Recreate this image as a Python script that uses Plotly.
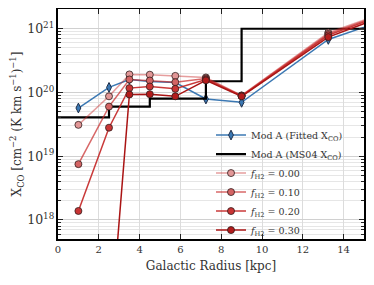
import plotly.graph_objects as go

# ---- data ----
radius = [1, 2.5, 3.5, 4.5, 5.75, 7.25, 9, 13.25, 17]
fitted_xco = [5.7e19, 1.2e20, 1.6e20, 1.49e20, 1.43e20, 7.9e19, 7.0e19, 6.8e20, 1.75e21]

ms04_r = [0, 2.5, 4.5, 7.25, 9, 17]
ms04_xco = [4.07e19, 6.0e19, 8.0e19, 1.5e20, 1.0e21, 1.0e21]

fh2_labels = ["0.00", "0.10", "0.20", "0.30"]
xco_f00 = [3.1e19, 8.7e19, 1.92e20, 1.9e20, 1.82e20, 1.72e20, 9.0e19, 8.7e20, 2.3e21]
xco_f01 = [7.5e18, 6.0e19, 1.6e20, 1.54e20, 1.45e20, 1.66e20, 8.9e19, 8.3e20, 2.25e21]
xco_f02 = [1.38e18, 2.8e19, 1.17e20, 1.24e20, 1.14e20, 1.6e20, 8.8e19, 7.9e20, 2.2e21]
xco_f03 = [1e14, 1e16, 9.3e19, 9.4e19, 8.7e19, 1.55e20, 8.7e19, 7.4e20, 2.1e21]

x_ticks = [0, 2, 4, 6, 8, 10, 12, 14]

red_colors = ["rgba(200,40,40,0.45)", "rgba(200,40,40,0.7)", "rgba(195,35,35,0.9)", "rgba(170,20,20,1.0)"]
red_fills = ["#e29797", "#d46464", "#c93434", "#b31c1c"]

fig = go.Figure()

fig.add_trace(go.Scatter(
    x=radius, y=fitted_xco, mode="lines+markers",
    name="Mod A (Fitted X<sub>CO</sub>)",
    line=dict(color="#3b78b3", width=1.5),
    marker=dict(symbol="diamond-tall", size=7, color="#3b78b3",
                line=dict(color="#1f2f4a", width=1)),
))

fig.add_trace(go.Scatter(
    x=ms04_r, y=ms04_xco, mode="lines",
    name="Mod A (MS04 X<sub>CO</sub>)",
    line=dict(color="black", width=2.2, shape="hv"),
))

for lab, ys, lc, fc in zip(fh2_labels, [xco_f00, xco_f01, xco_f02, xco_f03], red_colors, red_fills):
    fig.add_trace(go.Scatter(
        x=radius, y=ys, mode="lines+markers",
        name=f"<i>f</i><sub>H2</sub> = {lab}",
        line=dict(color=lc, width=1.5),
        marker=dict(symbol="circle", size=7, color=fc,
                    line=dict(color="rgba(50,30,30,0.8)", width=1)),
    ))

font_family = "DejaVu Serif"

# page body has an 8px default margin; figure sized to fill the rest of the window
fig.update_layout(
    width=366, height=277,
    margin=dict(l=50, r=10, t=1, b=46, autoexpand=False),
    paper_bgcolor="white", plot_bgcolor="white",
    font=dict(family=font_family, size=11, color="#333"),
    showlegend=True,
    legend=dict(x=0.5, y=0.515, xanchor="left", yanchor="top",
                bgcolor="rgba(255,255,255,0)", borderwidth=0,
                font=dict(family=font_family, size=9.5), tracegroupgap=0, itemwidth=30),
)

fig.update_xaxes(
    range=[0, 15], tickvals=x_ticks, ticktext=[str(t) for t in x_ticks],
    ticks="inside", ticklen=5, tickcolor="#222", mirror="allticks",
    showline=True, linecolor="black", linewidth=1.5,
    showgrid=True, gridcolor="#dcdcdc", gridwidth=1, zeroline=False,
    automargin=False,
    title=dict(text="Galactic Radius [kpc]", font=dict(family=font_family, size=12), standoff=8),
    tickfont=dict(family=font_family, size=10),
)

fig.update_yaxes(
    type="log", range=[17.70, 21.31], dtick=1, exponentformat="power",
    ticks="inside", ticklen=5, tickcolor="#222", mirror="allticks",
    showline=True, linecolor="black", linewidth=1.5,
    showgrid=True, gridcolor="#d0d0d0", gridwidth=1, zeroline=False,
    automargin=False,
    minor=dict(ticks="inside", ticklen=3, tickcolor="#222", showgrid=True,
               gridcolor="#e6e6e6", gridwidth=1),
    title=dict(text="X<sub>CO</sub> [cm<sup>−2</sup> (K km s<sup>−1</sup>)<sup>−1</sup>]",
               font=dict(family=font_family, size=12), standoff=4),
    tickfont=dict(family=font_family, size=10),
)

fig.write_html("out.html")
